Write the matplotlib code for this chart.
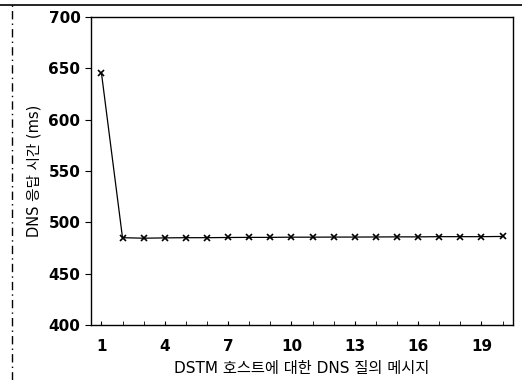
import matplotlib
matplotlib.use("Agg")
import matplotlib.pyplot as plt
from matplotlib.lines import Line2D

plt.rcParams["font.family"] = ["DejaVu Sans", "Noto Sans CJK KR"]

# query index vs DNS response time
queries = list(range(1, 21))
resp_ms = [646, 485, 484.5, 484.8, 485, 485, 485.2, 485.3, 485.3, 485.5,
           485.5, 485.6, 485.6, 485.7, 485.8, 485.8, 486, 486, 486, 486.2]
xticks = [1, 4, 7, 10, 13, 16, 19]
yticks = [400, 450, 500, 550, 600, 650, 700]

fig = plt.figure(figsize=(5.22, 3.80), dpi=100)
ax = fig.add_axes([0.174, 0.145, 0.809, 0.810])

ax.plot(queries, resp_ms, color="black", lw=0.9, marker="x", ms=4, mew=1.2)

ax.set_xlim(0.5, 20.5)
ax.set_ylim(400, 700)
ax.set_xticks(xticks)
ax.set_xticks(queries, minor=True)
ax.set_yticks(yticks)
ax.tick_params(axis="x", which="both", direction="in", length=3, pad=10, labelsize=11)
ax.tick_params(axis="y", direction="out", length=4, labelsize=11)
for lab in ax.get_xticklabels() + ax.get_yticklabels():
    lab.set_fontweight("bold")
for s in ax.spines.values():
    s.set_linewidth(1.0)

ax.set_ylabel("DNS 응답 시간 (ms)", fontsize=10.5, labelpad=5,
              family=["DejaVu Sans", "Noto Sans CJK KR"])
ax.set_xlabel("DSTM 호스트에 대한 DNS 질의 메시지", fontsize=11, labelpad=5,
              family=["DejaVu Sans", "Noto Sans CJK KR"])

# scanned page frame
fig.add_artist(Line2D([0, 1], [0.987, 0.987], color="black", lw=1.2))
fig.add_artist(Line2D([0.023, 0.023], [0, 0.987], color="black", lw=1.0,
                      linestyle=(0, (6, 3, 1, 3))))

fig.savefig("out.png", dpi=100)
